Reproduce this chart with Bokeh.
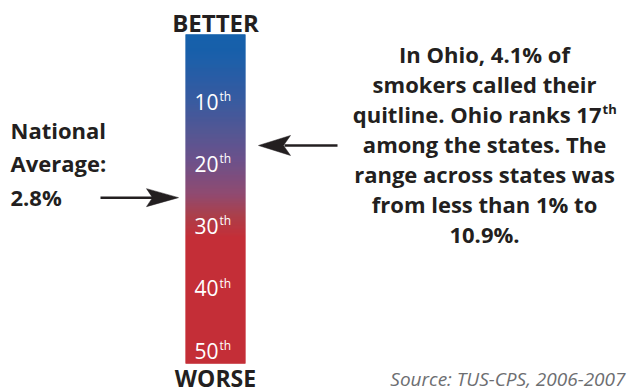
import numpy as np
from bokeh.plotting import figure
from bokeh.models import Range1d
from bokeh.embed import file_html
from bokeh.resources import INLINE
from bokeh.core.properties import value

# ---------------- data ----------------
rank_ticks = [10, 20, 30, 40, 50]
rank_suffix = ["th", "th", "th", "th", "th"]
top_label = "BETTER"
bottom_label = "WORSE"
ohio_rank = 17
national_position = 25.4          # where the national average (2.8%) falls on the rank scale
national_lines = ["National", "Average:", "2.8%"]
ohio_lines = [
    "In Ohio, 4.1% of",
    "smokers called their",
    "quitline. Ohio ranks 17",
    "among the states. The",
    "range across states was",
    "from less than 1% to",
    "10.9%.",
]
ohio_sup = "th"
source_text = "Source: TUS-CPS, 2006-2007"

# ---------------- layout ----------------
W, H = 628, 390
PX0 = 39.4      # pixel y of rank 0
PPR = 6.21      # pixels per rank
SHIFT = 0.4     # svg text baseline correction, in em


def ry(px):
    """pixel y -> rank units"""
    return (px - PX0) / PPR


def tb(px, size):
    """rank-unit y for a text whose baseline should sit at pixel px"""
    return ry(px - SHIFT * size)


p = figure(width=W, height=H, output_backend="svg", toolbar_location=None,
           x_range=Range1d(0, W), y_range=Range1d(ry(H), ry(0)),
           x_axis_type=None, y_axis_type=None, min_border=0)
p.outline_line_color = None
p.grid.visible = False
p.background_fill_color = "white"
p.border_fill_color = "white"

FONT = value("Open Sans")
DARK = "#231f20"

# gradient bar
stops = [(34, "#0657a6"), (53, "#0a55a5"), (100, "#2b509a"), (130, "#474c8d"),
         (160, "#624683"), (195, "#8a3e66"), (215, "#a5333f"), (238, "#c1202a"),
         (363, "#c1202a")]


def hex2rgb(h):
    return np.array([int(h[i:i + 2], 16) for i in (1, 3, 5)], dtype=float)


sp = np.array([s[0] for s in stops], dtype=float)
sc = np.array([hex2rgb(s[1]) for s in stops])
tops, bots, cols = [], [], []
for px in range(34, 363):
    c = [np.interp(px + 0.5, sp, sc[:, k]) for k in range(3)]
    cols.append("#%02x%02x%02x" % tuple(int(round(v)) for v in c))
    tops.append(ry(px) - 0.04)
    bots.append(ry(px + 1) + 0.04)
p.quad(left=185, right=245, top=tops, bottom=bots, fill_color=cols, line_color=None)

# rank labels
p.text(x=[218] * len(rank_ticks), y=[r - PX0 / PPR + tb(PX0 + 8.5, 21) + PX0 / PPR - ry(PX0) for r in rank_ticks],
       text=[str(r) for r in rank_ticks], text_font=FONT, text_font_size=value("21px"),
       text_color="white", text_align="right", text_baseline="alphabetic")
p.text(x=[219] * len(rank_ticks), y=[r + tb(PX0 - 0.5, 12) - ry(PX0) for r in rank_ticks],
       text=rank_suffix, text_font=FONT, text_font_size=value("12px"),
       text_color="white", text_align="left", text_baseline="alphabetic")

# BETTER / WORSE
p.text(x=[215], y=[tb(32, 24)], text=[top_label], text_font=FONT, text_font_size=value("24px"),
       text_font_style="bold", text_color=DARK, text_align="center", text_baseline="alphabetic")
p.text(x=[215], y=[tb(387, 23)], text=[bottom_label], text_font=FONT, text_font_size=value("23px"),
       text_font_style="bold", text_color=DARK, text_align="center", text_baseline="alphabetic")

# national average text
p.text(x=[10] * 3, y=[tb(138, 22), tb(171, 22), tb(205, 22)], text=national_lines, text_font=FONT,
       text_font_size=value("22px"), text_font_style="bold", text_color=DARK,
       text_align="left", text_baseline="alphabetic")

# Ohio text block
base = [62, 92, 122, 152, 182, 212, 242]
xs = [484] * len(ohio_lines)
aligns = ["center"] * len(ohio_lines)
xs[2] = 601
aligns[2] = "right"
p.text(x=xs, y=[tb(b, 22) for b in base], text=ohio_lines, text_font=FONT,
       text_font_size=value("22px"), text_font_style="bold", text_color=DARK,
       text_align=aligns, text_baseline="alphabetic")
p.text(x=[602], y=[tb(114, 13)], text=[ohio_sup], text_font=FONT, text_font_size=value("13px"),
       text_font_style="bold", text_color=DARK, text_align="left", text_baseline="alphabetic")

# source
p.text(x=[625], y=[tb(386, 19)], text=[source_text], text_font=FONT, text_font_size=value("19px"),
       text_font_style="italic", text_color="#6d6e71", text_align="right",
       text_baseline="alphabetic")

# arrows
ARROW = "#231f20"
yo = ohio_rank
p.segment(x0=[284], y0=[yo], x1=[337], y1=[yo], line_color=ARROW, line_width=2.5)
hw = 10 / PPR
p.patch(x=[258, 290, 283, 290], y=[yo, yo - hw, yo, yo + hw], fill_color=ARROW, line_color=ARROW,
        line_width=0.5)
yn = national_position
p.segment(x0=[100], y0=[yn], x1=[153], y1=[yn], line_color=ARROW, line_width=2.5)
hw2 = 9 / PPR
p.patch(x=[178, 146, 152, 146], y=[yn, yn - hw2, yn, yn + hw2], fill_color=ARROW, line_color=ARROW,
        line_width=0.5)

open("out.html", "w").write(file_html(p, INLINE))
